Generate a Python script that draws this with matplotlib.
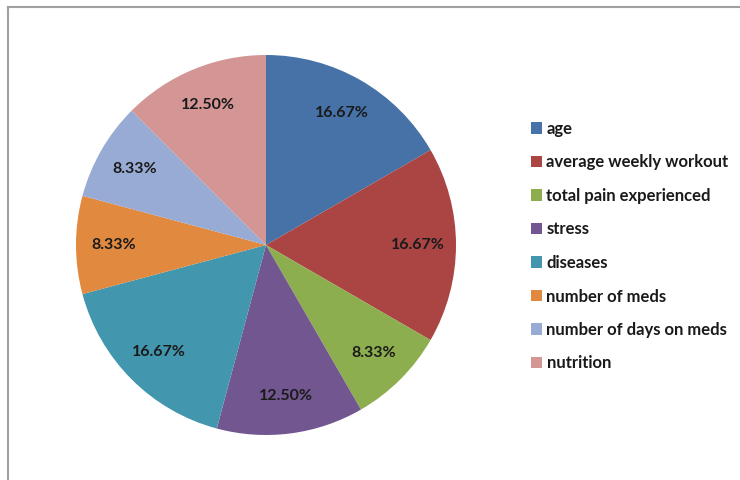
import matplotlib.pyplot as plt
from matplotlib.lines import Line2D

labels = ['age', 'average weekly workout', 'total pain experienced', 'stress',
          'diseases', 'number of meds', 'number of days on meds', 'nutrition']
values = [16.67, 16.67, 8.33, 12.50, 16.67, 8.33, 8.33, 12.50]
colors = ['#4672A8', '#AA4543', '#8CAE4E', '#725690', '#4296AE', '#E0893F',
          '#97ABD4', '#D39694']

plt.rcParams['font.family'] = ['Lato', 'DejaVu Sans']

fig = plt.figure(figsize=(7.4, 4.8), dpi=100)

# pie axes: centre ~(266,245) px, radius ~190 px
ax = fig.add_axes([76 / 740, 45 / 480, 380 / 740, 380 / 480])
wedges, texts, autotexts = ax.pie(
    values, colors=colors, startangle=90, counterclock=False,
    autopct='%.2f%%', pctdistance=0.8, radius=1.0,
    wedgeprops=dict(linewidth=0))
for t in autotexts:
    t.set_fontsize(11.5)
    t.set_fontweight('bold')
    t.set_color('#1a1a1a')
ax.set_xlim(-1, 1)
ax.set_ylim(-1, 1)
ax.set_aspect('equal')
ax.axis('off')

leg = fig.legend(wedges, labels, loc='upper left',
                 bbox_to_anchor=(531 / 740, 1 - 121 / 480),
                 frameon=False, fontsize=12, handlelength=0.68,
                 handleheight=0.68, handletextpad=0.25, labelspacing=1.05,
                 borderpad=0, borderaxespad=0)
for t in leg.get_texts():
    t.set_fontweight('bold')
    t.set_color('#1a1a1a')

# chart border (top and left edge visible)
fig.add_artist(Line2D([8 / 740, 1], [1 - 6.5 / 480, 1 - 6.5 / 480],
                      transform=fig.transFigure, color='#a0a0a0', lw=1.5))
fig.add_artist(Line2D([8 / 740, 8 / 740], [0, 1 - 6.5 / 480],
                      transform=fig.transFigure, color='#a0a0a0', lw=1.5))

fig.savefig('out.png', dpi=100)
